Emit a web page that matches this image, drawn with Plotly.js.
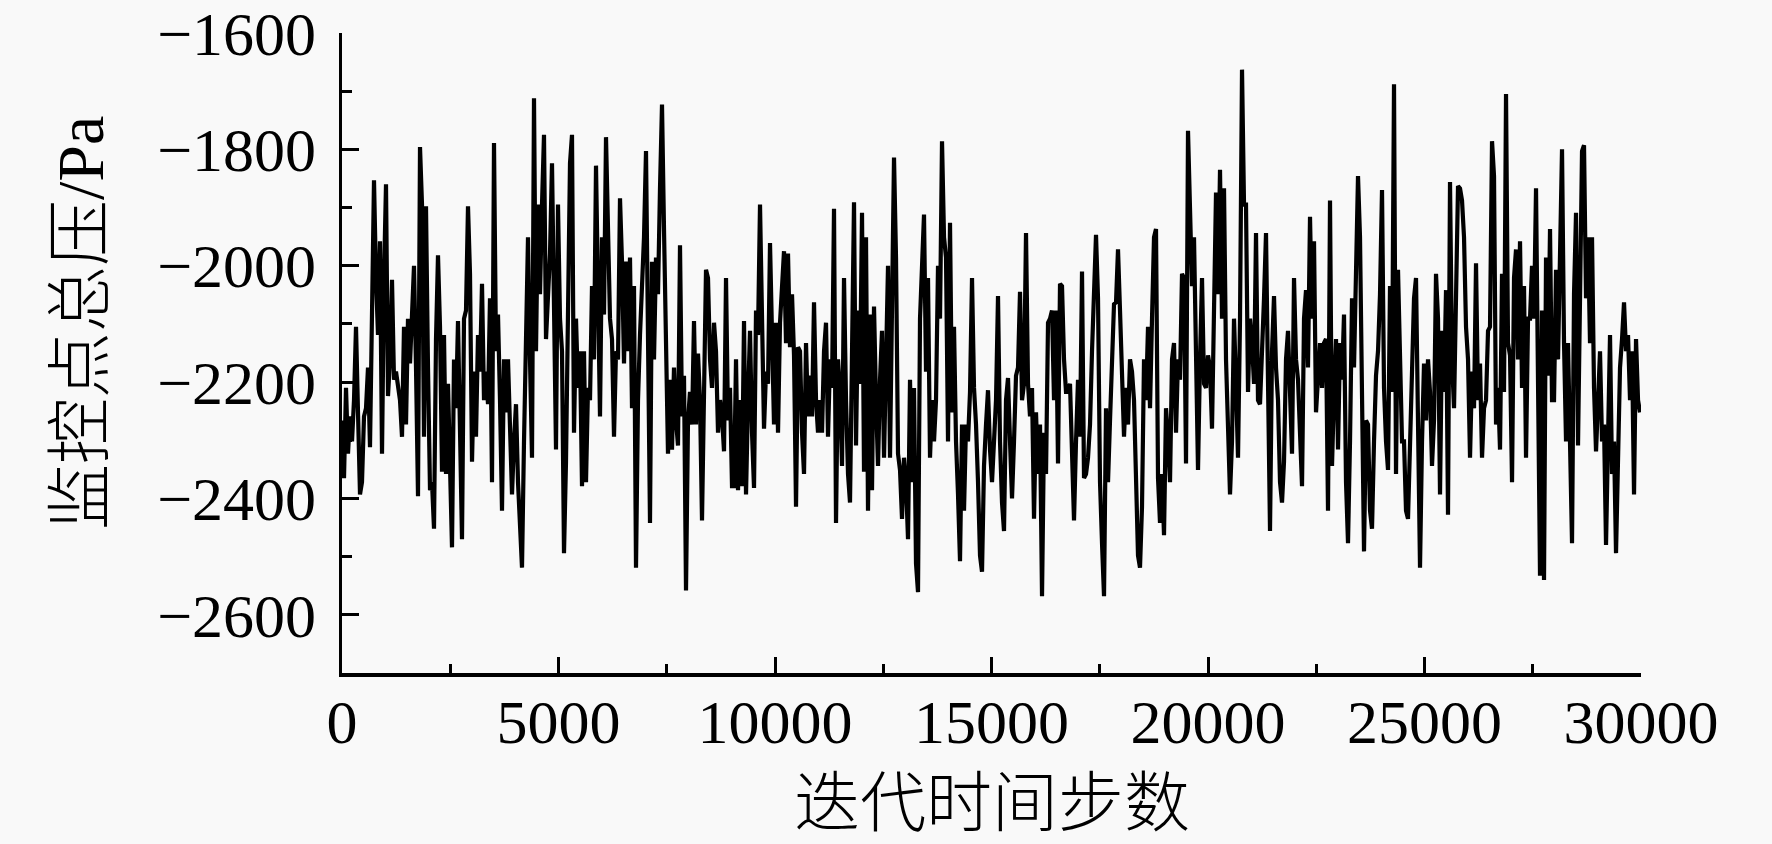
<!DOCTYPE html>
<html>
<head>
<meta charset="utf-8">
<script src="https://cdn.plot.ly/plotly-3.0.1.min.js"></script>
<style>
html,body{margin:0;padding:0;background:#f9f9f9;}
#chart{width:1772px;height:844px;}
</style>
</head>
<body>
<div id="chart"></div>
<script>
const stepStart = 0;
const stepInterval = 46.19;

const pressureA = [-2266,-2365,-2210,-2323,-2259,-2302,-2231,-2105,-2252,-2393,
-2372,-2259,-2245,-2175,-2312,-2091,-1853,-2021,-2119,-1958,
-2323,-2021,-1860,-2224,-2161,-2024,-2196,-2182,-2210,-2231,
-2294,-2105,-2273,-2091,-2168,-2091,-2000,-2175,-2396,-1796,
-1895,-2294,-1898,-2175,-2386,-2372,-2452,-2126,-1982,-2105,
-2354,-2119,-2358,-2203,-2372,-2484,-2161,-2245,-2095,-2302,
-2470,-2091,-2077,-1898,-2014,-2337,-2182,-2294,-2119,-2182,
-2031,-2231,-2182,-2238,-2056,-2372,-1789,-2147,-2084];

const pressureB = [-2231,-2421,-2161,-2252,-2161,-2287,-2393,-2302,-2238,-2372,
-2442,-2519,-2302,-2091,-1951,-2161,-2330,-1712,-2147,-1895,
-2049,-1895,-1775,-2126,-2035,-1979,-1824,-2133,-2316,-1895,
-2091,-2147,-2494,-2337,-2091,-1824,-1775,-2287,-2091,-2210,
-2147,-2379,-2147,-2372,-2210,-2231,-2035,-2161,-1828,-2091,
-2259,-1951,-2084,-1779,-1951,-2091,-2126,-2294,-2147,-2161,
-1884,-1993,-2168,-1993,-2147,-1986,-2245,-2035,-2519,-2231,
-2119,-2049,-1951,-1803,-2133,-2442,-1993,-2161,-1986,-2049];

const pressureC = [-1867,-1723,-1937,-2091,-2323,-2196,-2316,-2175,-2266,-2309,
-1965,-2259,-2189,-2558,-2266,-2217,-2273,-2095,-2273,-2151,
-2231,-2438,-2231,-2007,-2021,-2161,-2210,-2098,-2147,-2287,
-2231,-2259,-2319,-2021,-2266,-2210,-2379,-2379,-2161,-2386,
-2231,-2379,-2095,-2393,-2231,-2112,-2287,-2382,-2077,-2119,
-1895,-2133,-2280,-2182,-2203,-1961,-2112,-2273,-2098,-2287,
-2098,-2049,-1975,-2133,-1979,-2140,-2049,-2154,-2414,-2140,
-2147,-2287,-2358,-2133,-2259,-2189,-2259,-2063,-2231,-2287];

const pressureD = [-2231,-2287,-2147,-2098,-2294,-2161,-2210,-1902,-2442,-2161,
-2217,-2344,-2021,-2231,-2358,-2407,-2091,-1891,-2309,-2077,
-2203,-1909,-2354,-1951,-2421,-2084,-2386,-2070,-2231,-2344,
-2196,-2112,-2330,-2112,-2000,-2330,-2021,-1814,-1986,-2323,
-2351,-2435,-2330,-2372,-2470,-2196,-2372,-2210,-2512,-2561,
-2091,-1993,-1912,-2182,-2021,-2330,-2231,-2302,-2231,-2000,
-2091,-1786,-1951,-1986,-2302,-1926,-2252,-2105,-2302,-2393,
-2508,-2273,-2421,-2273,-2302,-2217,-2021,-2210,-2273,-2372];

const pressureE = [-2498,-2526,-2344,-2273,-2214,-2316,-2372,-2302,-2231,-2052,
-2302,-2407,-2456,-2231,-2193,-2302,-2400,-2302,-2189,-2175,
-2045,-2231,-2203,-1944,-2203,-2259,-2210,-2435,-2252,-2358,
-2273,-2568,-2287,-2358,-2098,-2091,-2077,-2231,-2077,-2340,
-2031,-2035,-2161,-2217,-2217,-2203,-2337,-2438,-2302,-2196,
-2294,-2010,-2365,-2358,-2330,-2273,-2147,-2056,-1947,-2056,
-2372,-2477,-2568,-2245,-2372,-2266,-2175,-2066,-2063,-1972,
-2077,-2203,-2294,-2210,-2273,-2161,-2182,-2231,-2372,-2498];

const pressureF = [-2519,-2414,-2161,-2231,-2105,-2245,-2091,-1951,-1937,-2365,
-2442,-2358,-2463,-2245,-2294,-2372,-2161,-2133,-2287,-2161,
-2196,-2014,-2021,-2340,-1768,-1902,-2035,-1951,-2203,-2351,
-2161,-2021,-2203,-2210,-2154,-2175,-2280,-2049,-1874,-2049,
-1835,-2091,-1867,-2161,-2302,-2393,-2302,-2091,-2203,-2330,
-2091,-1663,-1895,-1895,-2217,-2091,-2133,-2203,-1944,-2231,
-2238,-2161,-2056,-1944,-2217,-2456,-2147,-2052,-2175,-2231,
-2372,-2407,-2337,-2161,-2112,-2231,-2323,-2021,-2161,-2196];

const pressureG = [-2302,-2379,-2091,-2042,-2175,-1916,-2091,-1958,-2252,-2175,
-2133,-2210,-2133,-2126,-2421,-1888,-2344,-2217,-2126,-2316,
-2133,-2196,-2084,-2372,-2477,-2302,-2056,-2175,-2007,-1846,
-1951,-2238,-2491,-2266,-2273,-2421,-2452,-2302,-2189,-2147,
-2049,-1870,-2210,-2302,-2351,-2035,-2217,-1688,-2358,-2007,
-2133,-2302,-2302,-2421,-2435,-2287,-2140,-2056,-2021,-2316,
-2519,-2302,-2168,-2266,-2161,-2217,-2344,-2266,-2014,-2091,
-2393,-2112,-2217,-2042,-2428,-1856,-2161,-2245,-2014,-1863];

const pressureH = [-1867,-1888,-1951,-2105,-2161,-2330,-2182,-2245,-1996,-2231,
-2168,-2330,-2245,-2231,-2112,-2105,-1786,-1846,-2273,-2210,
-2316,-2014,-2217,-1705,-2133,-2154,-2372,-2021,-1972,-2161,
-1958,-2210,-2035,-2330,-2091,-2091,-2000,-2091,-1867,-2309,
-2533,-2077,-2540,-1986,-2189,-1937,-2231,-2231,-2007,-2161,
-1951,-1800,-2133,-2302,-2133,-2309,-2477,-2049,-1909,-2309,
-2035,-1803,-1793,-2056,-1951,-2133,-1951,-2210,-2319,-2217,
-2147,-2302,-2273,-2480,-2323,-2119,-2358,-2302,-2494,-2337,
-2175,-2126,-2063,-2147,-2119,-2231,-2147,-2393,-2126,-2231,
-2252];

const pressure = [].concat(pressureA, pressureB, pressureC, pressureD,
                           pressureE, pressureF, pressureG, pressureH);

const yTickValues = [-2600, -2400, -2200, -2000, -1800, -1600];
const xTitle = '迭代时间步数';
const yTitle = '监控点总压/Pa';

const tickFont = {family: '"Liberation Serif", "Times New Roman", serif', size: 62, color: '#000'};
const titleFamily = '"Liberation Serif", "Noto Sans CJK SC", serif';

const trace = {
  type: 'scatter',
  mode: 'lines',
  x0: stepStart,
  dx: stepInterval,
  y: pressure,
  line: {color: '#000', width: 4.2},
  hoverinfo: 'skip',
  cliponaxis: false
};

const layout = {
  width: 1772,
  height: 844,
  paper_bgcolor: '#f9f9f9',
  plot_bgcolor: '#f9f9f9',
  margin: {l: 342, r: 131, t: 33, b: 171},
  showlegend: false,
  xaxis: {
    range: [0, 30000],
    tick0: 0, dtick: 5000,
    tickformat: 'd',
    ticks: 'inside', ticklen: 16, tickwidth: 3, tickcolor: '#000',
    minor: {dtick: 2500, ticks: 'inside', ticklen: 9, tickwidth: 3, tickcolor: '#000', showgrid: false},
    showline: true, linewidth: 3.5, linecolor: '#000',
    showgrid: false, zeroline: false,
    tickfont: tickFont,
    ticklabeloverflow: 'allow',
    ticklabelstandoff: -8
  },
  yaxis: {
    range: [-2700, -1600],
    tickmode: 'array',
    tickvals: yTickValues,
    ticks: 'inside', ticklen: 17, tickwidth: 3, tickcolor: '#000',
    minor: {tickmode: 'linear', tick0: -2700, dtick: 100, ticks: 'inside', ticklen: 10, tickwidth: 3, tickcolor: '#000', showgrid: false},
    showline: true, linewidth: 3.5, linecolor: '#000',
    showgrid: false, zeroline: false,
    tickfont: tickFont,
    ticklabeloverflow: 'allow',
    ticklabelstandoff: 10
  },
  annotations: [
    {text: xTitle, xref: 'paper', yref: 'paper', x: 0.5, y: 0, xanchor: 'center', yanchor: 'middle',
     yshift: -130, showarrow: false, font: {family: titleFamily, size: 66, weight: 300, color: '#000'}},
    {text: yTitle, xref: 'paper', yref: 'paper', x: 0, y: 0.5, xanchor: 'center', yanchor: 'middle',
     xshift: -262, yshift: 30, textangle: -90, showarrow: false, font: {family: titleFamily, size: 66, weight: 300, color: '#000'}}
  ]
};

Plotly.newPlot('chart', [trace], layout, {staticPlot: true, displayModeBar: false});
</script>
</body>
</html>
